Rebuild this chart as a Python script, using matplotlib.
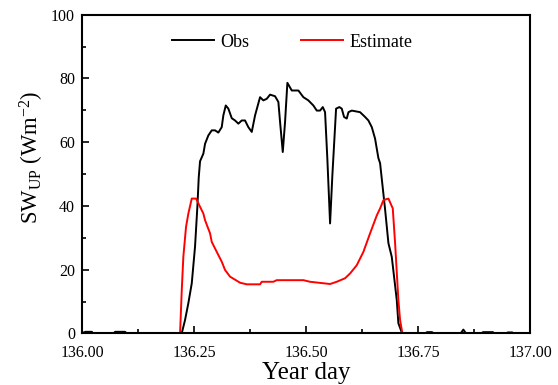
import numpy as np
import matplotlib
matplotlib.use("Agg")
import matplotlib.pyplot as plt
from matplotlib.ticker import MultipleLocator, FormatStrFormatter

plt.rcParams['font.family'] = ['Liberation Serif', 'DejaVu Serif']
plt.rcParams['mathtext.fontset'] = 'custom'
plt.rcParams['mathtext.rm'] = 'Liberation Serif'
plt.rcParams['mathtext.it'] = 'Liberation Serif:italic'

obs_day = [136.000, 136.005, 136.007, 136.022, 136.025, 136.070, 136.074, 136.096, 136.100,
           136.2225, 136.2299, 136.2373, 136.2449, 136.2522, 136.2574, 136.2605, 136.2634,
           136.2708, 136.2746, 136.2819, 136.2895, 136.2969, 136.3042, 136.3118, 136.3154,
           136.3208, 136.3266, 136.3342, 136.3415, 136.3489, 136.3565, 136.3638, 136.3712,
           136.3788, 136.3862, 136.3973, 136.4047, 136.4123, 136.4196, 136.4308, 136.4382,
           136.4420, 136.4480, 136.4531, 136.4583, 136.4681, 136.4829, 136.4866, 136.4940,
           136.5051, 136.5163, 136.5239, 136.5313, 136.5373, 136.5424, 136.5475, 136.5536,
           136.5587, 136.5670, 136.5743, 136.5797, 136.5848, 136.5908, 136.5946, 136.6020,
           136.6205, 136.6317, 136.6391, 136.6467, 136.6540, 136.6614, 136.6652, 136.6763,
           136.6838, 136.6913, 136.7024, 136.7060, 136.7136, 136.7170,
           136.766, 136.770, 136.781, 136.785, 136.845, 136.851, 136.857,
           136.891, 136.895, 136.917, 136.920, 136.946, 136.950, 136.960, 136.964, 137.000]
obs_val = [0.3, 0.3, 0.5, 0.5, 0.0, 0.0, 0.5, 0.5, 0.0,
           0.0, 4.2, 9.5, 15.7, 27.2, 39.7, 49.0, 54.0,
           56.4, 59.5, 62.1, 63.7, 63.7, 63.0, 64.7, 68.4,
           71.5, 70.5, 67.5, 66.8, 65.8, 66.8, 66.8, 64.7,
           63.2, 68.4, 74.1, 73.1, 73.6, 74.9, 74.4, 72.6,
           66.3, 56.9, 66.3, 78.6, 76.2, 76.2, 75.5, 74.1,
           73.1, 71.5, 69.9, 69.9, 71.0, 69.4, 54.8, 34.5,
           49.6, 70.5, 71.0, 70.5, 67.9, 67.4, 69.4, 69.9,
           69.4, 67.9, 66.8, 64.7, 61.1, 55.0, 53.4, 39.0,
           28.3, 24.0, 10.5, 3.2, 0.3, 0.0,
           0.0, 0.4, 0.4, 0.0, 0.0, 1.2, 0.0,
           0.0, 0.4, 0.4, 0.0, 0.0, 0.3, 0.3, 0.0, 0.0]

# estimated upward shortwave
est_day = [136.000, 136.2188, 136.2226, 136.2261, 136.2321, 136.2373, 136.2449, 136.2545,
           136.2634, 136.2708, 136.2746, 136.2857, 136.2895, 136.3006, 136.3118, 136.3192,
           136.3304, 136.3527, 136.3676, 136.3973, 136.4011, 136.4270, 136.4345, 136.4940,
           136.5089, 136.5536, 136.5684, 136.5870, 136.5982, 136.6132, 136.6280, 136.6429,
           136.6578, 136.6652, 136.6726, 136.6838, 136.6935, 136.6987, 136.7060, 136.7098,
           136.7150, 137.000]
est_val = [0.0, 0.0, 13.6, 24.0, 33.4, 37.6, 42.3, 42.3,
           39.7, 37.6, 35.5, 31.4, 28.7, 25.6, 22.5, 19.9,
           17.8, 15.9, 15.4, 15.4, 16.2, 16.2, 16.7, 16.7,
           16.2, 15.5, 16.2, 17.3, 18.8, 21.4, 25.6, 31.4,
           37.0, 39.2, 41.8, 42.3, 39.2, 28.3, 10.5, 4.2,
           0.0, 0.0]

fig = plt.figure(figsize=(5.58, 3.85), dpi=100)
ax = fig.add_axes([0.147, 0.134, 0.803, 0.828])

ax.plot(obs_day, obs_val, color='black', lw=1.4, label='Obs')
ax.plot(est_day, est_val, color='red', lw=1.4, label='Estimate')

ax.set_xlim(136.0, 137.0)
ax.set_ylim(0, 100)
ax.xaxis.set_major_locator(MultipleLocator(0.25))
ax.xaxis.set_minor_locator(MultipleLocator(0.125))
ax.yaxis.set_major_locator(MultipleLocator(20))
ax.yaxis.set_minor_locator(MultipleLocator(10))
ax.xaxis.set_major_formatter(FormatStrFormatter('%.2f'))
ax.tick_params(which='both', direction='in', top=False, right=False, labelsize=11.5, width=1.2)
ax.tick_params(which='major', length=5, pad=5)
ax.tick_params(axis='x', which='major', pad=8)
ax.tick_params(which='minor', length=3)
for s in ax.spines.values():
    s.set_linewidth(1.5)

ax.set_xlabel('Year day', fontsize=18, labelpad=1)
fig.text(32 / 558, 1 - 157 / 385, r'SW$_{\mathrm{UP}}$ (Wm$^{-2}$)', fontsize=16.3,
         rotation=90, ha='center', va='center')

ax.legend(loc='center left', bbox_to_anchor=(0.201, 0.914), ncol=2, frameon=False,
          borderpad=0, borderaxespad=0, fontsize=13, handlelength=2.3,
          handletextpad=0.35, columnspacing=2.9)

fig.savefig('out.png', dpi=100)
